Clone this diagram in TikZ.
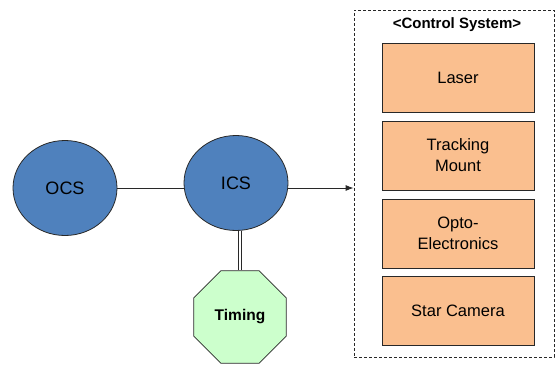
\documentclass[tikz,border=0pt]{standalone}
\usepackage{fontspec}
\setmainfont{Liberation Sans}
\usepackage{tikz}
\usetikzlibrary{shapes.geometric, arrows.meta, positioning, calc}
\definecolor{myblue}{RGB}{79,129,189}
\definecolor{mygreen}{RGB}{204,255,204}
\definecolor{myorange}{RGB}{250,191,143}
\definecolor{mydark}{RGB}{40,40,40}
\tikzset{
  ctrlnode/.style={ellipse, draw=mydark, fill=myblue, line width=0.8pt,
    minimum width=104pt, minimum height=95pt, inner sep=0pt,
    font=\fontsize{18}{20}\selectfont},
  timenode/.style={regular polygon, regular polygon sides=8, draw=mydark,
    fill=mygreen, line width=0.8pt, minimum size=100pt, inner sep=0pt,
    font=\fontsize{15.5}{18}\selectfont\bfseries},
  unit/.style={rectangle, draw=mydark, fill=myorange, line width=0.8pt,
    minimum width=152pt, minimum height=69pt, align=center,
    font=\fontsize{16.5}{21}\selectfont},
  frame/.style={rectangle, draw=mydark, dash pattern=on 3pt off 2pt,
    line width=0.8pt, minimum width=200pt, minimum height=347pt},
  link/.style={line width=0.8pt, color=mydark},
  arrow/.style={-{Latex[length=8pt,width=6pt]}, line width=0.8pt, color=mydark}
}
\begin{document}
\begin{tikzpicture}[x=1pt, y=-1pt]
  \useasboundingbox (0,0) rectangle (555,367);

  % Control system frame
  \node[frame] (csys) at (454,183.5) {};
  \node[font=\fontsize{15}{18}\selectfont\bfseries] (title) at (457,25) {<Control System>};

  % Units inside the frame
  \node[unit] (laser) at (458,77.5) {Laser};
  \node[unit] (mount) at (458,155.5) {Tracking\\Mount};
  \node[unit] (opto) at (458,233.5) {Opto-\\Electronics};
  \node[unit] (camera) at (458,311) {Star Camera};

  % Controllers
  \node[ctrlnode] (ocs) at (65,188) {OCS};
  \node[ctrlnode] (ics) at (236,183) {ICS};
  \node[timenode] (timing) at (240,317) {Timing};

  % Connections
  \draw[link] (ocs.east) -- (ocs.east -| ics.west);
  \draw[arrow] (ocs.east -| ics.east) -- (ocs.east -| csys.west);
  \draw[link, double=white, double distance=2pt] (ics.south -| timing.north) -- (timing.north);
\end{tikzpicture}
\end{document}
